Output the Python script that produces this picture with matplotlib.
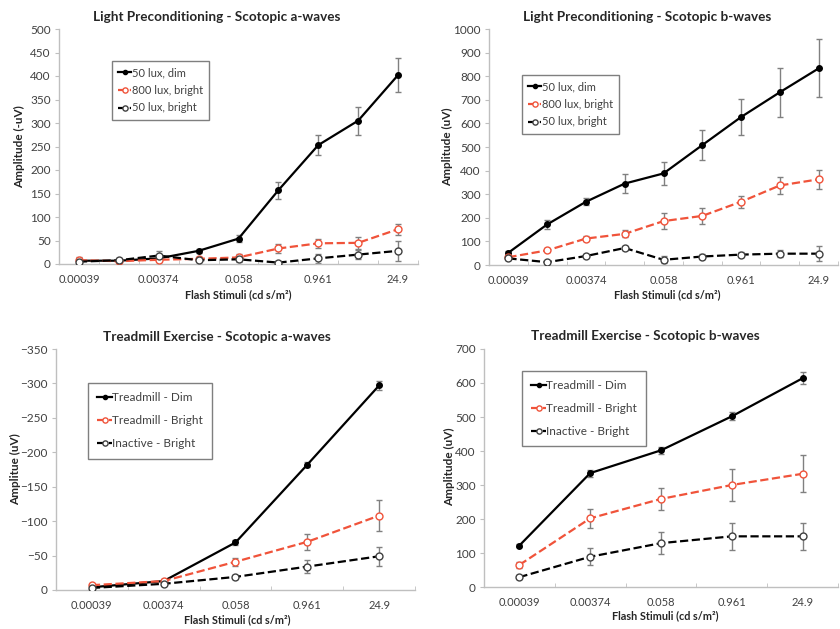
import numpy as np
import matplotlib
matplotlib.use('Agg')
import matplotlib.pyplot as plt
from matplotlib.ticker import FixedLocator, NullFormatter

plt.rcParams['font.family'] = ['Lato', 'DejaVu Sans']

# Данные
stim_labels = ['0.00039', '0.00374', '0.058', '0.961', '24.9']

# Светопредобработка: 9 вспышек
lp_a_dim = [7, 7, 12, 28, 54, 157, 253, 305, 402]
lp_a_dim_err = [4, 3, 3, 4, 8, 18, 21, 30, 37]
lp_a_800 = [8, 6, 9, 11, 14, 33, 44, 45, 74]
lp_a_800_err = [4, 3, 4, 4, 8, 10, 10, 13, 12]
lp_a_50b = [5, 8, 18, 8, 10, 3, 12, 20, 28]
lp_a_50b_err = [10, 5, 10, 4, 6, 3, 10, 10, 22]

lp_b_dim = [52, 172, 268, 345, 388, 508, 627, 732, 833]
lp_b_dim_err = [8, 20, 15, 42, 48, 63, 75, 103, 123]
lp_b_800 = [33, 62, 112, 132, 186, 208, 268, 337, 363]
lp_b_800_err = [6, 8, 10, 15, 33, 33, 25, 37, 40]
lp_b_50b = [28, 12, 38, 72, 22, 36, 44, 48, 48]
lp_b_50b_err = [8, 5, 8, 10, 15, 10, 12, 15, 33]

# Беговая дорожка: 5 вспышек
tm_a_dim = [-4, -13, -69, -182, -297]
tm_a_dim_err = [2, 2, 4, 4, 7]
tm_a_bright = [-7, -13, -41, -70, -108]
tm_a_bright_err = [2, 3, 6, 12, 22]
tm_a_inact = [-3, -9, -19, -34, -49]
tm_a_inact_err = [2, 2, 3, 9, 14]

tm_b_dim = [122, 335, 402, 502, 614]
tm_b_dim_err = [5, 10, 10, 12, 18]
tm_b_bright = [65, 202, 259, 300, 333]
tm_b_bright_err = [8, 28, 33, 48, 55]
tm_b_inact = [29, 89, 129, 149, 149]
tm_b_inact_err = [5, 25, 33, 40, 40]

lp_names = ['50 lux, dim', '800 lux, bright', '50 lux, bright']
tm_names = ['Treadmill - Dim', 'Treadmill - Bright', 'Inactive - Bright']

W, H = 840, 629
RED = '#f0533a'
GRID = '#bfbfbf'
TXT = '#404040'

fig = plt.figure(figsize=(W / 100, H / 100), dpi=100)


def make_ax(l, r, t, b):
    return fig.add_axes([l / W, 1 - b / H, (r - l) / W, (b - t) / H])


def style(ax, n, label_pos, ylim, yticks):
    for s in ['top', 'right']:
        ax.spines[s].set_visible(False)
    for s in ['left', 'bottom']:
        ax.spines[s].set_color(GRID)
        ax.spines[s].set_linewidth(1.0)
    ax.set_xlim(0.5, n + 0.5)
    ax.set_ylim(*ylim)
    ax.set_yticks(yticks)
    ax.set_xticks(label_pos)
    ax.set_xticklabels(stim_labels)
    ax.xaxis.set_minor_locator(FixedLocator(np.arange(0.5, n + 1, 1)))
    ax.xaxis.set_minor_formatter(NullFormatter())
    ax.tick_params(axis='x', which='major', length=0, pad=7, labelsize=8, labelcolor=TXT)
    ax.tick_params(axis='x', which='minor', length=3, direction='in', color=GRID)
    ax.tick_params(axis='y', length=3, color=GRID, labelsize=8.5, labelcolor=TXT, pad=3)


def draw(ax, series, names):
    x = np.arange(1, len(series[0][0]) + 1)
    fmt = [dict(color='black', ls='-', marker='o', ms=4, mfc='black', mec='black'),
           dict(color=RED, ls='--', marker='o', ms=5, mfc='white', mec=RED),
           dict(color='black', ls='--', marker='o', ms=5, mfc='white', mec='#404040')]
    handles = []
    for (vals, errs), f, name in zip(series, fmt, names):
        ax.errorbar(x, vals, yerr=errs, fmt='none', ecolor='#808080',
                    elinewidth=1, capsize=2, capthick=1, zorder=2)
        h, = ax.plot(x, vals, lw=1.6, mew=1, label=name, zorder=3, **f)
        handles.append(h)
    return handles


def legend(ax, handles, loc, size, spacing, pad):
    leg = ax.legend(handles=handles, loc='upper left', bbox_to_anchor=loc,
                    fontsize=size, handlelength=1.2, handletextpad=0.05,
                    labelspacing=spacing, borderpad=pad, markerscale=0.75,
                    fancybox=False, framealpha=1, edgecolor='#7f7f7f',
                    borderaxespad=0)
    leg.get_frame().set_linewidth(1.0)
    for t in leg.get_texts():
        t.set_color(TXT)


# Верхний левый
ax1 = make_ax(59, 418, 29, 264)
style(ax1, 9, [1, 3, 5, 7, 9], (0, 500), np.arange(0, 501, 50))
h = draw(ax1, [(lp_a_dim, lp_a_dim_err), (lp_a_800, lp_a_800_err),
               (lp_a_50b, lp_a_50b_err)], lp_names)
legend(ax1, h, ((112 - 59) / 359, (264 - 61) / 235), 8, 0.6, 0.55)

# Верхний правый
ax2 = make_ax(489, 838, 29, 265)
style(ax2, 9, [1, 3, 5, 7, 9], (0, 1000), np.arange(0, 1001, 100))
h = draw(ax2, [(lp_b_dim, lp_b_dim_err), (lp_b_800, lp_b_800_err),
               (lp_b_50b, lp_b_50b_err)], lp_names)
legend(ax2, h, ((522 - 489) / 349, (265 - 75) / 236), 8, 0.6, 0.55)

# Нижний левый (ось перевёрнута)
ax3 = make_ax(56, 415, 349, 590)
style(ax3, 5, [1, 2, 3, 4, 5], (0, -350), np.arange(0, -351, -50))
h = draw(ax3, [(tm_a_dim, tm_a_dim_err), (tm_a_bright, tm_a_bright_err),
               (tm_a_inact, tm_a_inact_err)], tm_names)
legend(ax3, h, ((88 - 56) / 359, (590 - 383) / 241), 8.5, 1.0, 0.8)

# Нижний правый
ax4 = make_ax(484, 838, 349, 587)
style(ax4, 5, [1, 2, 3, 4, 5], (0, 700), np.arange(0, 701, 100))
h = draw(ax4, [(tm_b_dim, tm_b_dim_err), (tm_b_bright, tm_b_bright_err),
               (tm_b_inact, tm_b_inact_err)], tm_names)
legend(ax4, h, ((522 - 484) / 354, (587 - 371) / 238), 8.5, 1.0, 0.8)

# Заголовки и подписи осей
titles = [('Light Preconditioning - Scotopic a-waves', 217, 17),
          ('Light Preconditioning - Scotopic b-waves', 647, 17),
          ('Treadmill Exercise - Scotopic a-waves', 217, 337),
          ('Treadmill Exercise - Scotopic b-waves', 645, 336)]
for txt, x, y in titles:
    fig.text(x / W, 1 - y / H, txt, ha='center', va='center',
             fontsize=9.75, fontweight='bold', color='#262626')

xlabels = [(238, 295), (667, 295), (237, 620), (665, 616)]
for x, y in xlabels:
    fig.text(x / W, 1 - y / H, 'Flash Stimuli (cd s/m²)', ha='center',
             va='center', fontsize=7.8, fontweight='bold', color='#262626')

ylabels = [('Amplitude (-uV)', 20, 147), ('Amplitude (uV)', 448, 147),
           ('Amplitue (uV)', 16, 469), ('Amplitude (uV)', 450, 467)]
for txt, x, y in ylabels:
    fig.text(x / W, 1 - y / H, txt, ha='center', va='center', rotation=90,
             fontsize=8.5, fontweight='bold', color='#262626')

plt.savefig('out.png', dpi=100)
plt.close()
